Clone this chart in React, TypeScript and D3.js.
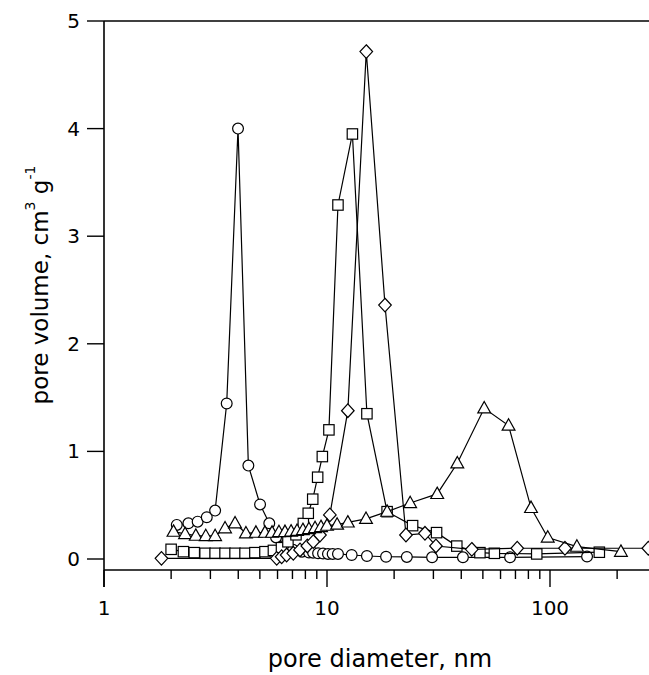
import React from "react";
import * as d3 from "d3";

// circles series
const circD = [2.12, 2.39, 2.63, 2.89, 3.15, 3.55, 3.99, 4.44, 5.01, 5.51, 5.91, 6.41, 7.04, 7.73, 8.3, 8.66, 9.12, 9.6, 10.1, 10.6, 11.2, 12.9, 15.1, 18.4, 22.8, 29.6, 40.7, 66.2, 146.6];
const circV = [0.317, 0.332, 0.347, 0.388, 0.45, 1.445, 4.0, 0.868, 0.507, 0.332, 0.2, 0.12, 0.085, 0.068, 0.06, 0.059, 0.053, 0.051, 0.047, 0.047, 0.047, 0.037, 0.028, 0.021, 0.019, 0.016, 0.016, 0.016, 0.023];

// squares series
const sqD = [2.0, 2.27, 2.54, 2.84, 3.15, 3.49, 3.87, 4.29, 4.75, 5.27, 5.75, 6.25, 6.68, 7.26, 7.83, 8.24, 8.63, 9.08, 9.53, 10.2, 11.2, 13.0, 15.1, 18.6, 24.2, 31.0, 38.2, 48.5, 56.3, 87.2, 166.4];
const sqV = [0.09, 0.068, 0.059, 0.053, 0.053, 0.053, 0.053, 0.053, 0.059, 0.068, 0.08, 0.105, 0.16, 0.225, 0.33, 0.425, 0.556, 0.76, 0.952, 1.2, 3.29, 3.95, 1.35, 0.44, 0.31, 0.245, 0.12, 0.059, 0.053, 0.047, 0.063];

// diamonds series
const diaD = [1.81, 5.95, 6.26, 6.59, 7.06, 7.57, 8.16, 8.68, 9.3, 10.3, 12.4, 15.0, 18.2, 22.6, 27.5, 30.8, 44.6, 71.3, 116.7, 276];
const diaV = [0.006, 0.006, 0.021, 0.037, 0.053, 0.084, 0.121, 0.161, 0.223, 0.41, 1.378, 4.716, 2.36, 0.223, 0.239, 0.121, 0.09, 0.1, 0.1, 0.1];

// triangles series
const triD = [2.05, 2.31, 2.58, 2.86, 3.15, 3.49, 3.87, 4.33, 4.8, 5.27, 5.67, 6.09, 6.48, 6.9, 7.34, 7.8, 8.3, 8.84, 9.4, 10.0, 11.1, 12.4, 14.96, 18.6, 23.6, 31.2, 38.4, 50.7, 65.2, 82.2, 97.7, 132, 208];
const triV = [0.254, 0.233, 0.217, 0.214, 0.214, 0.286, 0.332, 0.239, 0.245, 0.245, 0.245, 0.25, 0.252, 0.256, 0.262, 0.27, 0.278, 0.287, 0.298, 0.31, 0.32, 0.34, 0.373, 0.44, 0.52, 0.605, 0.89, 1.4, 1.24, 0.475, 0.2, 0.115, 0.068];

const yTicks = [0, 1, 2, 3, 4, 5];
const xMajor = [1, 10, 100];
const xMinor = [2, 3, 4, 5, 6, 7, 8, 9, 20, 30, 40, 50, 60, 70, 80, 90, 200];

const W = 649;
const H = 675;
const FONT = "DejaVu Sans, Verdana, sans-serif";

export default function App() {
  const x = d3.scaleLog().domain([1, 300]).range([104, 104 + 223 * Math.log10(300)]);
  const y = d3.scaleLinear().domain([0, 5]).range([559, 21]);
  const axisY = 570;
  const line = d3
    .line<[number, number]>()
    .x((p) => x(p[0]))
    .y((p) => y(p[1]));

  const mk = (ds: number[], vs: number[]) => ds.map((d, i) => [d, vs[i]] as [number, number]);
  const series = [
    { pts: mk(circD, circV), shape: "circle" },
    { pts: mk(sqD, sqV), shape: "square" },
    { pts: mk(diaD, diaV), shape: "diamond" },
    { pts: mk(triD, triV), shape: "triangle" },
  ];

  const marker = (shape: string, cx: number, cy: number, key: number) => {
    const st = { fill: "#fff", stroke: "#000", strokeWidth: 1.2 };
    if (shape === "circle") return <circle key={key} cx={cx} cy={cy} r={5.4} {...st} />;
    if (shape === "square") return <rect key={key} x={cx - 5.2} y={cy - 5.2} width={10.4} height={10.4} {...st} />;
    if (shape === "diamond")
      return <path key={key} d={`M${cx},${cy - 6.8}L${cx + 6.3},${cy}L${cx},${cy + 6.8}L${cx - 6.3},${cy}Z`} {...st} />;
    return <path key={key} d={`M${cx},${cy - 6.8}L${cx + 6.4},${cy + 4.6}L${cx - 6.4},${cy + 4.6}Z`} {...st} />;
  };

  return (
    <svg width={W} height={H} style={{ position: "absolute", left: 0, top: 0, background: "#fff" }}>
      <rect x={0} y={0} width={W} height={H} fill="#fff" />
      <line x1={104} y1={21} x2={W} y2={21} stroke="#000" strokeWidth={1.6} />
      <line x1={104} y1={21} x2={104} y2={587} stroke="#000" strokeWidth={1.6} />
      <line x1={104} y1={axisY} x2={W} y2={axisY} stroke="#000" strokeWidth={1.6} />
      {yTicks.map((t) => (
        <g key={t}>
          <line x1={87} x2={104} y1={y(t)} y2={y(t)} stroke="#000" strokeWidth={1.4} />
          <text x={80} y={y(t)} textAnchor="end" dominantBaseline="central" fontFamily={FONT} fontSize={20}>
            {t}
          </text>
        </g>
      ))}
      {xMajor.map((t) => (
        <g key={t}>
          <line x1={x(t)} x2={x(t)} y1={axisY} y2={587} stroke="#000" strokeWidth={1.4} />
          <text x={x(t)} y={608} textAnchor="middle" dominantBaseline="central" fontFamily={FONT} fontSize={20}>
            {t}
          </text>
        </g>
      ))}
      {xMinor.map((t) => (
        <line key={t} x1={x(t)} x2={x(t)} y1={axisY} y2={579} stroke="#000" strokeWidth={1.4} />
      ))}
      <text x={380} y={659} textAnchor="middle" dominantBaseline="central" fontFamily={FONT} fontSize={24}>
        pore diameter, nm
      </text>
      <text
        transform={`translate(40,${285}) rotate(-90)`}
        textAnchor="middle"
        dominantBaseline="central"
        fontFamily={FONT}
        fontSize={23}
      >
        pore volume, cm<tspan dy={-10} fontSize={14}>3</tspan>
        <tspan dy={10}> g</tspan>
        <tspan dy={-10} fontSize={14}>-1</tspan>
      </text>
      {series.map((s, si) => (
        <g key={si}>
          <path d={line(s.pts) || ""} fill="none" stroke="#000" strokeWidth={1.2} />
          {s.pts.map((p, i) => marker(s.shape, x(p[0]), y(p[1]), i))}
        </g>
      ))}
    </svg>
  );
}
